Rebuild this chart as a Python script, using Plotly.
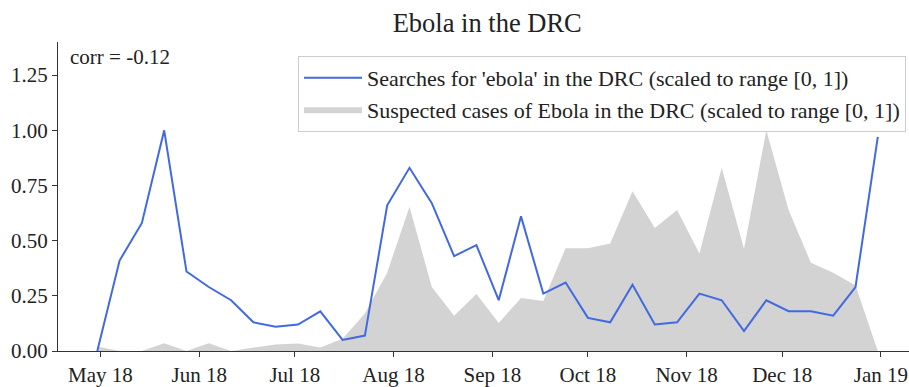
import plotly.graph_objects as go
import pandas as pd

# Weekly observations (Mondays), 30 Apr 2018 – 31 Dec 2018
week_start = "2018-04-30"
n_weeks = 36
weeks = pd.date_range(week_start, periods=n_weeks, freq="7D")

# Google searches for 'ebola' in the DRC, min-max scaled
searches = [0.00, 0.41, 0.58, 1.00, 0.36, 0.29, 0.23, 0.13, 0.11, 0.12,
            0.18, 0.05, 0.07, 0.66, 0.83, 0.67, 0.43, 0.48, 0.23, 0.61,
            0.26, 0.31, 0.15, 0.13, 0.30, 0.12, 0.13, 0.26, 0.23, 0.09,
            0.23, 0.18, 0.18, 0.16, 0.29, 0.97]

# Suspected Ebola cases in the DRC, min-max scaled
cases = [0.02, 0.00, 0.00, 0.035, 0.00, 0.035, 0.00, 0.016, 0.03, 0.034,
         0.016, 0.056, 0.17, 0.355, 0.654, 0.29, 0.16, 0.258, 0.127, 0.24,
         0.227, 0.466, 0.466, 0.487, 0.724, 0.557, 0.639, 0.442, 0.83, 0.463,
         1.00, 0.639, 0.40, 0.355, 0.297, 0.00]

corr_label = "corr = -0.12"
title_text = "Ebola in the DRC"
search_name = "Searches for 'ebola' in the DRC (scaled to range [0, 1])"
cases_name = "Suspected cases of Ebola in the DRC (scaled to range [0, 1])"
y_ticks = [0, 0.25, 0.5, 0.75, 1.0, 1.25]

FONT = "Liberation Serif"
INK = "#222222"

fig = go.Figure()

fig.add_trace(go.Scatter(
    x=weeks, y=cases, mode="lines", name=cases_name,
    fill="tozeroy", fillcolor="#d3d3d3",
    line=dict(width=0, color="#d3d3d3"),
    legendrank=2, legendgroup="cases",
))

fig.add_trace(go.Scatter(
    x=weeks, y=searches, mode="lines", name=search_name,
    line=dict(color="#4169e1", width=2),
    legendrank=1, legendgroup="searches",
))

fig.add_annotation(
    text=corr_label, xref="paper", yref="paper",
    x=0.012, y=0.998, xanchor="left", yanchor="top",
    showarrow=False, font=dict(family=FONT, size=21, color=INK),
)

fig.update_layout(
    width=909, height=387,
    margin=dict(l=58, r=0, t=42, b=34),
    paper_bgcolor="white", plot_bgcolor="white",
    font=dict(family=FONT, size=21, color=INK),
    title=dict(text=title_text, x=0.536, xref="container", xanchor="center",
               y=0.94, yref="container", yanchor="middle",
               font=dict(family=FONT, size=26.5, color=INK)),
    showlegend=True,
    legend=dict(
        x=0.9965, xanchor="right", y=0.955, yanchor="top",
        bgcolor="rgba(255,255,255,0.85)", bordercolor="#cccccc", borderwidth=1,
        font=dict(family=FONT, size=22, color=INK),
        itemwidth=58, tracegroupgap=0,
    ),
)

fig.update_xaxes(
    range=["2018-04-17 16:00", "2019-01-09 19:00"],
    tickmode="linear", tick0="2018-05-01", dtick="M1", tickformat="%b %y",
    ticks="outside", ticklen=5, tickwidth=1.2, tickcolor="#333333",
    showline=True, linecolor="#333333", linewidth=1.3,
    showgrid=False, zeroline=False,
    tickfont=dict(family=FONT, size=21, color=INK),
)

fig.update_yaxes(
    range=[0, 1.4], tickvals=y_ticks, tickformat=".2f",
    ticks="outside", ticklen=5, tickwidth=1.2, tickcolor="#333333",
    showline=True, linecolor="#333333", linewidth=1.3,
    showgrid=False, zeroline=False,
    tickfont=dict(family=FONT, size=21, color=INK),
)

fig.write_html("out.html")
